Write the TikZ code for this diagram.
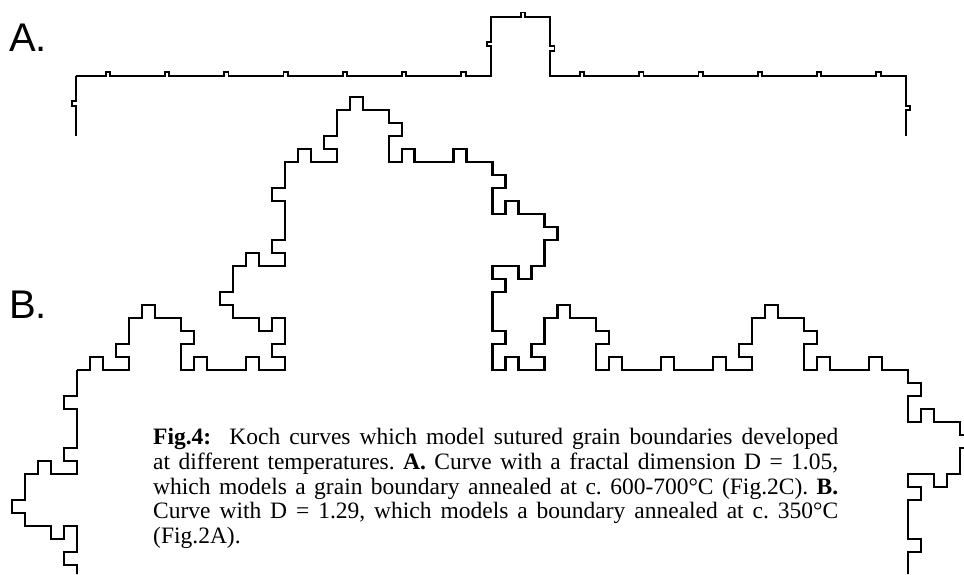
\documentclass[tikz,border=0pt]{standalone}
\usepackage{fontspec}
\setmainfont{Liberation Serif}
\newfontfamily\labelfont{Liberation Sans}
\usetikzlibrary{lindenmayersystems}
\pgfdeclarelindenmayersystem{kochA}{\rule{F -> FFFFFFF+F-F-F+FFFFFF}}
\pgfdeclarelindenmayersystem{kochB}{\rule{F -> F+F-F-F+FF}}
\frenchspacing
\tikzset{
  curveA/.style={line width=1.9pt, line join=miter, line cap=butt},
  curveB/.style={line width=2.2pt, line join=miter, line cap=butt},
  panellabel/.style={inner sep=0pt, anchor=base west, font=\labelfont\fontsize{40pt}{40pt}\selectfont},
  captext/.style={inner sep=0pt, anchor=north west, align=left, font=\fontsize{23.5pt}{24.8pt}\selectfont}
}
\begin{document}
\begin{tikzpicture}[x=1pt,y=1pt]
\useasboundingbox (0,0) rectangle (964,574);
% Curve A (D = 1.05): order-2 Koch curve, 14 parts with one square bump
\begin{scope}
  \clip (0,438.7) rectangle (964,574);
  \begin{scope}[shift={(76pt,498pt)}]
    \draw[curveA, lindenmayer system={kochA, axiom=F-F-F-F, order=2, step=4.2347pt, angle=90}] (0,0) lindenmayer system;
  \end{scope}
\end{scope}
% Curve B (D = 1.29): order-3 Koch curve, 4 parts with one square bump
\begin{scope}
  \clip (0,0) -- (914,0) -- (914,19) -- (926,19) -- (926,82) -- (964,82) -- (964,574) -- (0,574) -- cycle;
  \begin{scope}[shift={(77pt,204pt)}]
    \draw[curveB, lindenmayer system={kochB, axiom=F-F-F-F, order=3, step=12.984pt, angle=90}] (0,0) lindenmayer system;
  \end{scope}
\end{scope}
\node[panellabel] (labA) at (9,522) {A.};
\node[panellabel] (labB) at (9,256) {B.};
\node[captext] (cap) at (153,146) {%
\hbox to 685pt{\textbf{Fig.4:}\ \ Koch curves which model sutured grain boundaries developed}\\
\hbox to 685pt{at different temperatures. \textbf{A.} Curve with a fractal dimension D = 1.05,}\\
\hbox to 685pt{which models a grain boundary annealed at c. 600-700°C (Fig.2C). \textbf{B.}}\\
\hbox to 685pt{Curve with D = 1.29, which models a boundary annealed at c. 350°C}\\
\hbox{(Fig.2A).}};
\end{tikzpicture}
\end{document}
